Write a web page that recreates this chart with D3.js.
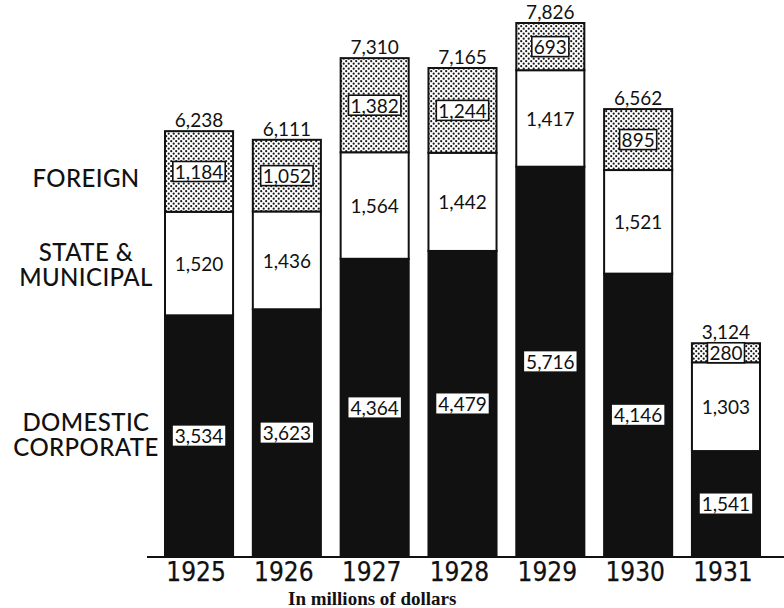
<!DOCTYPE html>
<html><head><meta charset="utf-8">
<script src="https://cdnjs.cloudflare.com/ajax/libs/d3/7.8.5/d3.min.js"></script>
<style>body{margin:0;background:#fff}svg{display:block}</style>
</head><body>
<script>
const years = ["1925","1926","1927","1928","1929","1930","1931"];
const domestic = [3534, 3623, 4364, 4479, 5716, 4146, 1541];
const stateMunicipal = [1520, 1436, 1564, 1442, 1417, 1521, 1303];
const foreign = [1184, 1052, 1382, 1244, 693, 895, 280];
const totals = [6238, 6111, 7310, 7165, 7826, 6562, 3124];
const seriesLabels = [["FOREIGN"], ["STATE &","MUNICIPAL"], ["DOMESTIC","CORPORATE"]];
const caption = "In millions of dollars";

const W = 784, H = 608;
const svg = d3.select("body").append("svg").attr("width", W).attr("height", H);

const defs = svg.append("defs");
const pat = defs.append("pattern").attr("id","dots").attr("patternUnits","userSpaceOnUse")
  .attr("width",5).attr("height",5);
pat.append("rect").attr("width",5).attr("height",5).attr("fill","#fff");
pat.append("circle").attr("cx",1.2).attr("cy",1.2).attr("r",1.1).attr("fill","#1a1a1a");
pat.append("circle").attr("cx",3.7).attr("cy",3.7).attr("r",1.1).attr("fill","#1a1a1a");

const x = d3.scaleBand().domain(years).range([165, 760]).paddingInner(0.225).paddingOuter(0);
const y = d3.scaleLinear().domain([0, 7826]).range([556, 23]);

const rows = years.map((yr,i)=>({year:yr, domestic:domestic[i], state:stateMunicipal[i], foreign:foreign[i], total:totals[i]}));
const stack = d3.stack().keys(["domestic","state","foreign"])(rows);
const fills = {domestic:"#111", state:"#fff", foreign:"url(#dots)"};

const g = svg.append("g");
stack.forEach(layer=>{
  g.selectAll(null).data(layer).enter().append("rect")
    .attr("x", d=>x(d.data.year))
    .attr("y", d=>y(d[1]))
    .attr("width", x.bandwidth())
    .attr("height", d=>y(d[0])-y(d[1]))
    .attr("fill", fills[layer.key])
    .attr("stroke","#111").attr("stroke-width",2);
});

// baseline
svg.append("line").attr("x1",147).attr("x2",784).attr("y1",y(0)+1).attr("y2",y(0)+1)
  .attr("stroke","#111").attr("stroke-width",2);

const numFont = "Lato, 'Noto Sans', sans-serif";
const fmt = d3.format(",");

function boxedLabel(cx, cy, text, border){
  const grp = svg.append("g");
  const t = grp.append("text").attr("x",cx).attr("y",cy).attr("text-anchor","middle")
    .attr("dominant-baseline","central").attr("font-family",numFont).attr("font-size",19)
    .attr("fill","#111").text(text);
  const bb = t.node().getBBox();
  grp.insert("rect","text").attr("x",bb.x-2).attr("y",cy-10).attr("width",bb.width+4).attr("height",20)
    .attr("fill","#fff").attr("stroke", border ? "#111" : "none").attr("stroke-width",1.6);
}

stack.forEach(layer=>{
  layer.forEach(d=>{
    const cx = x(d.data.year) + x.bandwidth()/2;
    const cy = (y(d[0]) + y(d[1]))/2;
    const v = d.data[layer.key];
    if(layer.key==="state"){
      svg.append("text").attr("x",cx).attr("y",cy).attr("text-anchor","middle")
        .attr("dominant-baseline","central").attr("font-family",numFont).attr("font-size",19)
        .attr("fill","#111").text(fmt(v));
    } else {
      boxedLabel(cx, cy, fmt(v), layer.key==="foreign");
    }
  });
});

// totals
svg.selectAll(null).data(rows).enter().append("text")
  .attr("x", d=>x(d.year)+x.bandwidth()/2)
  .attr("y", d=>y(d.total)-4)
  .attr("text-anchor","middle").attr("font-family",numFont).attr("font-size",19)
  .attr("fill","#111").text(d=>fmt(d.total));

// year axis labels
svg.selectAll(null).data(years).enter().append("text")
  .attr("x", d=>x(d)+x.bandwidth()/2 - 3).attr("y", 581)
  .attr("text-anchor","middle").attr("font-family","'DejaVu Sans Condensed', 'DejaVu Sans', sans-serif")
  .attr("font-size",26).attr("fill","#111").attr("stroke","#111").attr("stroke-width",0.25)
  .text(d=>d);

// series labels on the left (one text element per series, lines as tspans)
const labelBaselines = [[187], [261, 286], [431, 456]];
seriesLabels.forEach((lines, k)=>{
  const t = svg.append("text").attr("text-anchor","middle")
    .attr("font-family","Lato, 'Noto Sans', sans-serif").attr("font-size",24)
    .attr("font-weight",500).attr("letter-spacing",0.4).attr("fill","#111");
  lines.forEach((s,i)=>{
    t.append("tspan").attr("x",86).attr("y",labelBaselines[k][i]).text(s);
  });
});

svg.append("text").attr("x",288).attr("y",605).attr("text-anchor","start")
  .attr("font-family","'Liberation Serif', serif").attr("font-weight","bold").attr("font-size",19)
  .attr("fill","#111").text(caption);
</script>
</body></html>
